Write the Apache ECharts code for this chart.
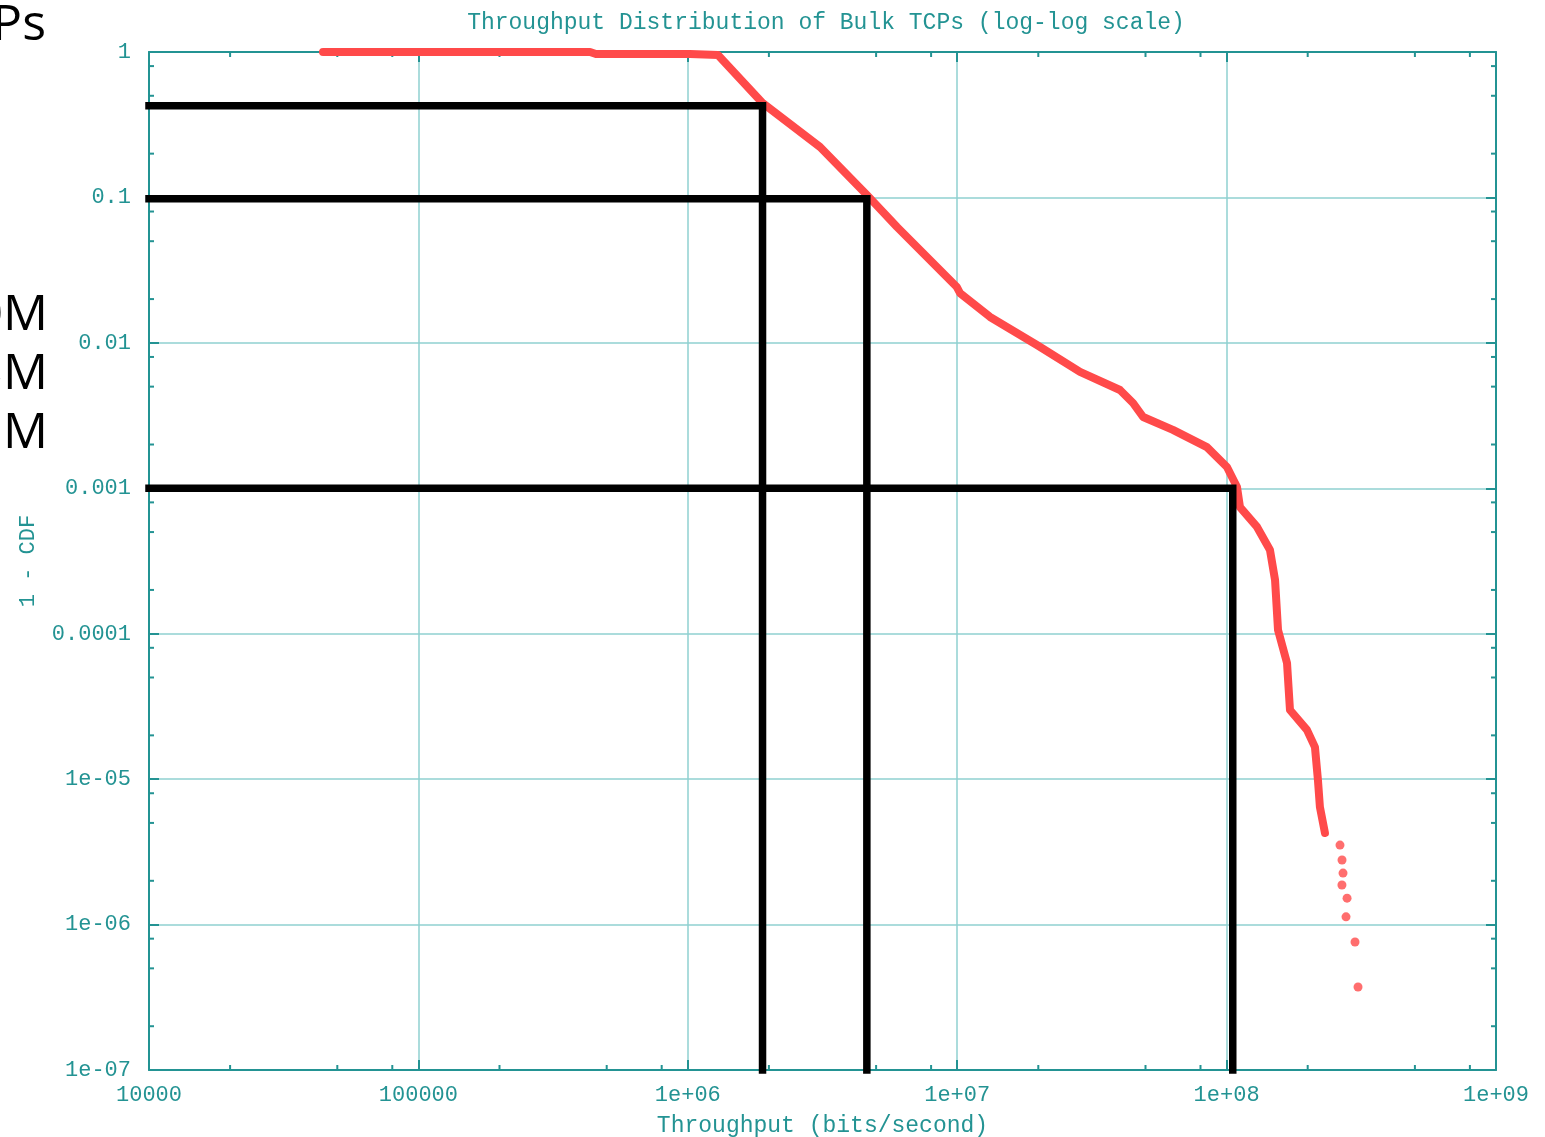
<!DOCTYPE html>
<html>
<head>
<meta charset="utf-8">
<script src="https://cdn.jsdelivr.net/npm/echarts@6/dist/echarts.min.js"></script>
<style>
html,body{margin:0;padding:0;background:#fff;}
#chart{width:1545px;height:1137px;}
</style>
</head>
<body>
<div id="chart"></div>
<script>
// ---- data ----
const titleText = 'Throughput Distribution of Bulk TCPs (log-log scale)';
const xAxisTitle = 'Throughput (bits/second)';
const yAxisTitle = '1 - CDF';

// main 1-CDF curve
const curveX = [44250, 433500, 456000, 1018000, 1294000, 1894000, 3097000, 4624000, 5980000, 9970000,
  10240000, 13240000, 19770000, 28570000, 40200000, 44940000, 49000000, 63200000, 84500000, 100300000,
  109300000, 112100000, 129700000, 144900000, 151300000, 155200000, 167600000, 171900000, 198700000,
  212800000, 218300000, 222000000, 231800000];
const curveY = [1, 1, 0.969, 0.969, 0.954, 0.446, 0.2222, 0.1039, 0.0626, 0.0242,
  0.02202, 0.01506, 0.00967, 0.00631, 0.00474, 0.00386, 0.00309, 0.00252, 0.00192, 0.0014,
  0.00102, 7.43e-4, 5.42e-4, 3.76e-4, 2.34e-4, 1.06e-4, 6.29e-5, 2.99e-5, 2.18e-5,
  1.66e-5, 9.86e-6, 6.44e-6, 4.26e-6];

// sparse tail points
const tailX = [263600000, 268200000, 270500000, 268000000, 280000000, 277500000, 299700000, 307500000];
const tailY = [3.52e-6, 2.78e-6, 2.26e-6, 1.87e-6, 1.52e-6, 1.13e-6, 7.59e-7, 3.72e-7];

// black annotation guides
const guideAX = [1e4, 1894000, 1894000];
const guideAY = [0.427, 0.427, 1e-7];
const guideBX = [1e4, 4620000, 4620000];
const guideBY = [0.098, 0.098, 1e-7];
const guideCX = [1e4, 105400000, 105400000];
const guideCY = [0.001, 0.001, 1e-7];

// axis ranges and minor tick positions
const xMin = 1e4, xMax = 1e9;
const yMin = 1e-7, yMax = 1;
const xMinorTicks = [];
[4,5,6,7,8].forEach(e => [2,5,8].forEach(m => xMinorTicks.push(m * Math.pow(10, e))));
const yMinorTicks = [];
[-7,-6,-5,-4,-3,-2,-1].forEach(e => [2,5,8].forEach(m => yMinorTicks.push(m * Math.pow(10, e))));

// side text from the slide
const sideTexts = ['Ps', '0M', '3M', 'M'];

// ---- styling ----
const TEAL = '#239393';
const GRIDC = '#8fd0d0';
const RED = '#ff4a4a';
const MONO = '"Liberation Mono", "DejaVu Sans Mono", monospace';

function zip(a, b) { return a.map((v, i) => [v, b[i]]); }

function fmtX(v) {
  const e = Math.round(Math.log10(v));
  if (e < 6) return String(Math.round(Math.pow(10, e)));
  return '1e+' + (e < 10 ? '0' : '') + e;
}
function fmtY(v) {
  const e = Math.round(Math.log10(v));
  if (e === 0) return '1';
  if (e >= -4) return Math.pow(10, e).toFixed(-e);
  return '1e-' + (-e < 10 ? '0' : '') + (-e);
}

const chart = echarts.init(document.getElementById('chart'), null, {renderer: 'canvas'});

const axisCommon = {
  type: 'log', logBase: 10,
  axisLine: {show: true, lineStyle: {color: TEAL, width: 2}},
  axisTick: {show: true, inside: true, length: 10, lineStyle: {color: TEAL, width: 2}},
  minorTick: {show: false}
};

function guideSeries(xs, ys) {
  return {
    type: 'line', data: zip(xs, ys), symbol: 'none', clip: false, z: 10,
    lineStyle: {color: '#000', width: 7.5, cap: 'square', join: 'miter'},
    silent: true, animation: false
  };
}

const option = {
  animation: false,
  backgroundColor: '#ffffff',
  title: {
    text: titleText, left: 821, textAlign: 'center', top: 6,
    textStyle: {fontFamily: MONO, fontSize: 23, fontWeight: 'normal', color: TEAL}
  },
  grid: {left: 149, right: 49, top: 52, bottom: 67, show: false, containLabel: false, outerBoundsMode: 'none'},
  xAxis: [
    Object.assign({}, axisCommon, {
      position: 'bottom', min: xMin, max: xMax, interval: 1,
      name: xAxisTitle, nameLocation: 'middle', nameGap: 44,
      nameTextStyle: {fontFamily: MONO, fontSize: 23, color: TEAL},
      axisLabel: {show: true, margin: 14, fontFamily: MONO, fontSize: 22, color: TEAL, formatter: fmtX},
      splitLine: {show: true, lineStyle: {color: GRIDC, width: 1.5}}
    }),
    Object.assign({}, axisCommon, {
      position: 'top', min: xMin, max: xMax, interval: 1,
      axisLabel: {show: false}, splitLine: {show: false}
    })
  ],
  yAxis: [
    Object.assign({}, axisCommon, {
      position: 'left', min: yMin, max: yMax, interval: 1,
      name: yAxisTitle, nameLocation: 'middle', nameGap: 110, nameRotate: 90,
      nameTextStyle: {fontFamily: MONO, fontSize: 22, color: TEAL},
      axisLabel: {show: true, margin: 18, fontFamily: MONO, fontSize: 22, color: TEAL, formatter: fmtY},
      splitLine: {show: true, lineStyle: {color: GRIDC, width: 1.5}}
    }),
    Object.assign({}, axisCommon, {
      position: 'right', min: yMin, max: yMax, interval: 1,
      axisLabel: {show: false}, splitLine: {show: false}
    })
  ],
  series: [
    {
      type: 'custom', coordinateSystem: 'cartesian2d', silent: true, z: 1,
      data: xMinorTicks.map(v => [v, yMin]),
      renderItem: function (params, api) {
        const v = api.value(0);
        const pb = api.coord([v, yMin]);
        const pt = api.coord([v, yMax]);
        const st = {stroke: TEAL, lineWidth: 2};
        return {type: 'group', children: [
          {type: 'line', shape: {x1: pb[0], y1: pb[1], x2: pb[0], y2: pb[1] - 5}, style: st},
          {type: 'line', shape: {x1: pt[0], y1: pt[1], x2: pt[0], y2: pt[1] + 5}, style: st}
        ]};
      }
    },
    {
      type: 'custom', coordinateSystem: 'cartesian2d', silent: true, z: 1,
      data: yMinorTicks.map(v => [xMin, v]),
      renderItem: function (params, api) {
        const v = api.value(1);
        const pl = api.coord([xMin, v]);
        const pr = api.coord([xMax, v]);
        const st = {stroke: TEAL, lineWidth: 2};
        return {type: 'group', children: [
          {type: 'line', shape: {x1: pl[0], y1: pl[1], x2: pl[0] + 5, y2: pl[1]}, style: st},
          {type: 'line', shape: {x1: pr[0], y1: pr[1], x2: pr[0] - 5, y2: pr[1]}, style: st}
        ]};
      }
    },
    {
      type: 'line', data: zip(curveX, curveY), symbol: 'none', clip: false, z: 5,
      lineStyle: {color: RED, width: 8, cap: 'round', join: 'round'}
    },
    {
      type: 'scatter', data: zip(tailX, tailY), symbol: 'circle', symbolSize: 9, z: 5,
      itemStyle: {color: RED, opacity: 0.8}
    },
    guideSeries(guideAX, guideAY),
    guideSeries(guideBX, guideBY),
    guideSeries(guideCX, guideCY)
  ],
  graphic: [
    {type: 'text', x: 46, y: 26, style: {text: sideTexts[0], font: '50px "Open Sans", sans-serif', fill: '#000', textAlign: 'right', textVerticalAlign: 'middle'}},
    {type: 'text', x: 48, y: 316, style: {text: sideTexts[1], font: '50px "Open Sans", sans-serif', fill: '#000', textAlign: 'right', textVerticalAlign: 'middle'}},
    {type: 'text', x: 48, y: 375, style: {text: sideTexts[2], font: '50px "Open Sans", sans-serif', fill: '#000', textAlign: 'right', textVerticalAlign: 'middle'}},
    {type: 'text', x: 48, y: 434, style: {text: sideTexts[3], font: '50px "Open Sans", sans-serif', fill: '#000', textAlign: 'right', textVerticalAlign: 'middle'}}
  ]
};

chart.setOption(option);
</script>
</body>
</html>
